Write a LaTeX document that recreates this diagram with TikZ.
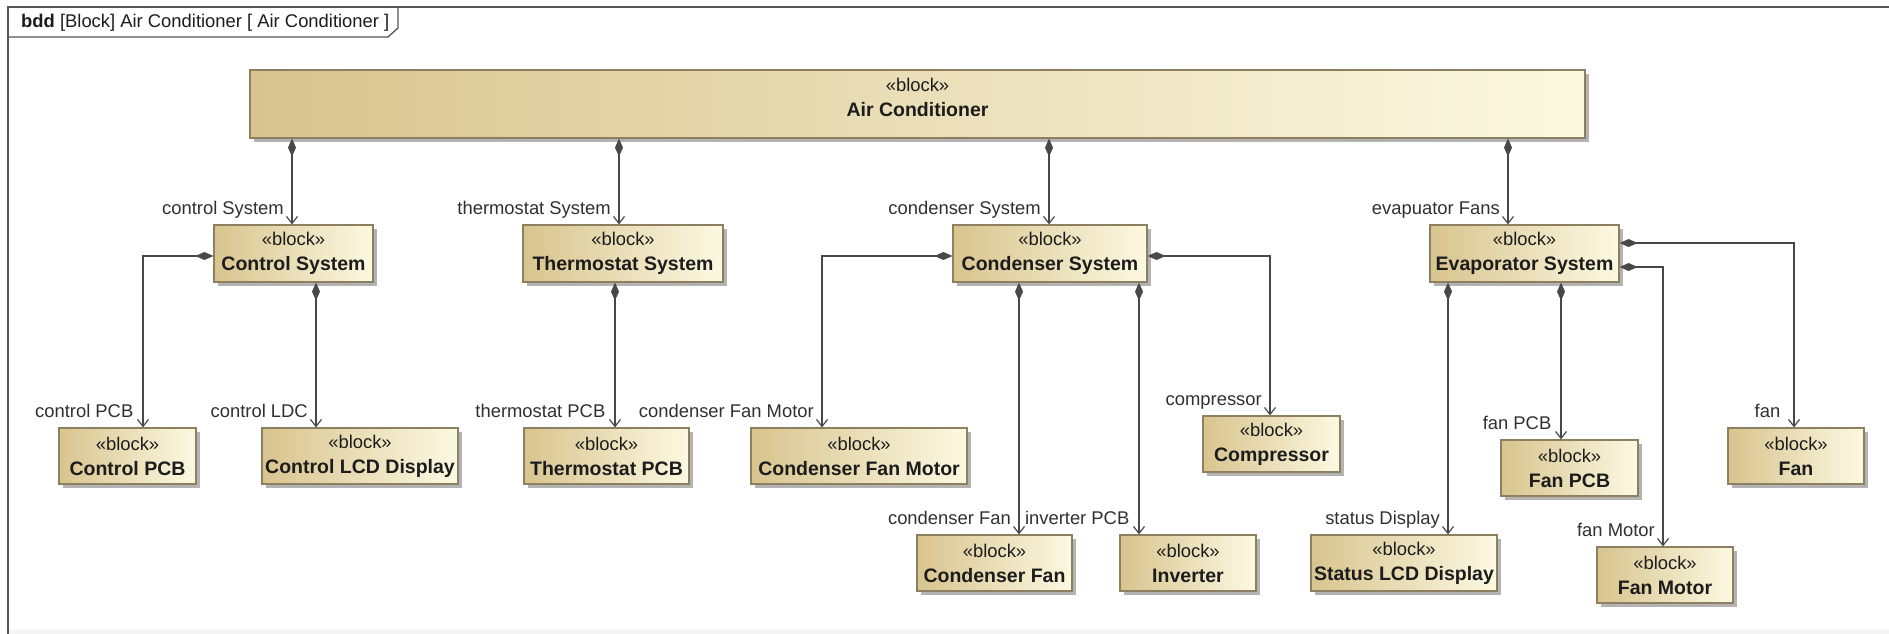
\documentclass[tikz,border=0pt]{standalone}
\usepackage{fontspec}
\setmainfont{Liberation Sans}
\usetikzlibrary{arrows.meta,shadows}

\definecolor{blkL}{RGB}{216,196,142}
\definecolor{blkR}{RGB}{252,249,226}
\definecolor{blkEdge}{RGB}{140,128,96}
\definecolor{wire}{RGB}{72,72,72}
\definecolor{txt}{RGB}{28,28,28}
\definecolor{lbltxt}{RGB}{48,48,48}
\definecolor{framecol}{RGB}{85,85,85}

\newcommand\regfont{\fontsize{18.4}{25}\selectfont}
\newcommand\namefont{\fontsize{19.5}{25}\selectfont\bfseries}

\tikzset{
  x=1pt, y=-1pt,
  blk/.style={draw=blkEdge, line width=1.2pt, left color=blkL, right color=blkR,
    inner sep=0pt, align=center, text=txt, font=\regfont, minimum height=56pt,
    drop shadow={shadow xshift=4pt, shadow yshift=-4pt, fill=black!40, opacity=0.75}},
  blktext/.style={inner sep=0pt, align=center, text=txt, font=\regfont},
  compo/.style={draw=wire, line width=1.4pt,
    {Diamond[length=18pt,width=8pt,fill=wire]}-{Straight Barb[length=7pt,width=11pt,line width=1.2pt]}},
  lbl/.style={font=\regfont, text=lbltxt, inner sep=0pt, anchor=base east,
    pos=1, xshift=-7.5pt, yshift=10pt},
}

\begin{document}
\begin{tikzpicture}
\useasboundingbox (0,0) rectangle (1889,634);

% diagram frame and name tab
\fill[black!4] (8,629) rectangle (1889,634);
\draw[framecol, line width=1.3pt] (8,640) -- (8,7) -- (1895,7);
\draw[framecol, line width=1.3pt] (8,37) -- (388,37) -- (398,28) -- (398,7);
\node[anchor=base west, inner sep=0pt, font=\regfont, text=txt] (title) at (21,28)
  {\textbf{bdd} [Block] Air Conditioner [ Air Conditioner ]};

% top-level block
\node[blk, minimum width=1335pt, minimum height=68pt] (ac) at (917.5,104) {};
\node[blktext] (actext) at ([yshift=6.5pt]ac.center) {«block»\\{\namefont Air Conditioner}};

% subsystems
\node[blk, minimum width=159pt, minimum height=57pt] (ctrl)   at (293.5,253.5) {«block»\\{\namefont Control System}};
\node[blk, minimum width=200pt, minimum height=57pt] (thermo) at (623,253.5)   {«block»\\{\namefont Thermostat System}};
\node[blk, minimum width=194pt, minimum height=57pt] (cond)   at (1050,253.5)  {«block»\\{\namefont Condenser System}};
\node[blk, minimum width=189pt, minimum height=57pt] (evap)   at (1524.5,253.5){«block»\\{\namefont Evaporator System}};

% parts
\node[blk, minimum width=137pt] (cpcb) at (127.5,456)  {«block»\\{\namefont Control PCB}};
\node[blk, minimum width=196pt] (clcd) at (360,456)    {«block»\\{\namefont Control LCD Display}};
\node[blk, minimum width=165pt] (tpcb) at (606.5,456)  {«block»\\{\namefont Thermostat PCB}};
\node[blk, minimum width=216pt] (cfm)  at (859,456)    {«block»\\{\namefont Condenser Fan Motor}};
\node[blk, minimum width=137pt] (comp) at (1271.5,444) {«block»\\{\namefont Compressor}};
\node[blk, minimum width=155pt] (cfan) at (994.5,563)  {«block»\\{\namefont Condenser Fan}};
\node[blk, minimum width=136pt] (inv)  at (1188,563)   {«block»\\{\namefont Inverter}};
\node[blk, minimum width=186pt] (slcd) at (1404,563)   {«block»\\{\namefont Status LCD Display}};
\node[blk, minimum width=137pt] (fpcb) at (1569.5,468) {«block»\\{\namefont Fan PCB}};
\node[blk, minimum width=136pt] (fmot) at (1665,575)   {«block»\\{\namefont Fan Motor}};
\node[blk, minimum width=136pt] (fan)  at (1796,456)   {«block»\\{\namefont Fan}};

% attachment points of the part ends
\coordinate (ctrlIn)   at ([xshift=-1.5pt]ctrl.north);
\coordinate (thermoIn) at ([xshift=-4pt]thermo.north);
\coordinate (condIn)   at ([xshift=-1pt]cond.north);
\coordinate (evapIn)   at ([xshift=-16.5pt]evap.north);
\coordinate (cpcbIn)   at ([xshift=15.5pt]cpcb.north);
\coordinate (clcdIn)   at ([xshift=-44pt]clcd.north);
\coordinate (tpcbIn)   at ([xshift=8.5pt]tpcb.north);
\coordinate (cfmIn)    at ([xshift=-37pt]cfm.north);
\coordinate (cfanIn)   at ([xshift=24.5pt]cfan.north);
\coordinate (invIn)    at ([xshift=-49pt]inv.north);
\coordinate (compIn)   at ([xshift=-1.5pt]comp.north);
\coordinate (slcdIn)   at ([xshift=44pt]slcd.north);
\coordinate (fpcbIn)   at ([xshift=-8.5pt]fpcb.north);
\coordinate (fanIn)    at ([xshift=-2pt]fan.north);
\coordinate (fmotIn)   at ([xshift=-2pt]fmot.north);

% compositions of the air conditioner
\draw[compo] (ctrlIn |- ac.south)   -- (ctrlIn)   node[lbl] {control System};
\draw[compo] (thermoIn |- ac.south) -- (thermoIn) node[lbl] {thermostat System};
\draw[compo] (condIn |- ac.south)   -- (condIn)   node[lbl] {condenser System};
\draw[compo] (evapIn |- ac.south)   -- (evapIn)   node[lbl] {evapuator Fans};

% control system parts
\draw[compo] ([yshift=-2.5pt]ctrl.west) -| (cpcbIn) node[lbl, xshift=-1.5pt] {control PCB};
\draw[compo] (clcdIn |- ctrl.south) -- (clcdIn) node[lbl] {control LDC};

% thermostat system parts
\draw[compo] (tpcbIn |- thermo.south) -- (tpcbIn) node[lbl, xshift=-1.5pt] {thermostat PCB};

% condenser system parts
\draw[compo] ([yshift=-2.5pt]cond.west) -| (cfmIn) node[lbl] {condenser Fan Motor};
\draw[compo] (cfanIn |- cond.south) -- (cfanIn) node[lbl] {condenser Fan};
\draw[compo] (invIn |- cond.south)  -- (invIn)  node[lbl, xshift=-1.5pt] {inverter PCB};
\draw[compo] ([yshift=-2.5pt]cond.east) -| (compIn) node[lbl] {compressor};

% evaporator system parts
\draw[compo] (slcdIn |- evap.south) -- (slcdIn) node[lbl] {status Display};
\draw[compo] (fpcbIn |- evap.south) -- (fpcbIn) node[lbl, xshift=-1.5pt] {fan PCB};
\draw[compo] ([yshift=10.5pt]evap.east) -| (fanIn) node[lbl, xshift=-5.5pt] {fan};
\draw[compo] ([yshift=-13.5pt]evap.east) -| (fmotIn) node[lbl] {fan Motor};
\end{tikzpicture}
\end{document}
